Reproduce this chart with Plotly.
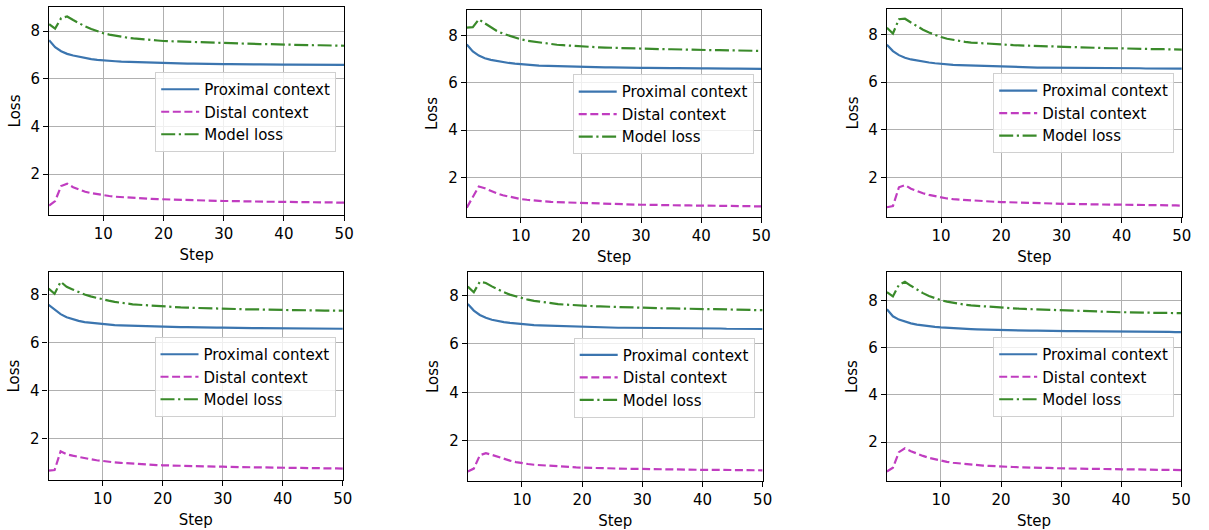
import plotly.graph_objects as go

STEPS = list(range(1, 51))

P1_PROXIMAL = [7.62, 7.33, 7.16, 7.05, 6.98, 6.92, 6.87, 6.83, 6.80, 6.77,
               6.75, 6.74, 6.72, 6.71, 6.70, 6.69, 6.68, 6.67, 6.67, 6.66,
               6.66, 6.65, 6.65, 6.64, 6.64, 6.63, 6.63, 6.63, 6.62, 6.62,
               6.62, 6.61, 6.61, 6.61, 6.61, 6.61, 6.60, 6.60, 6.60, 6.60,
               6.60, 6.60, 6.60, 6.59, 6.59, 6.59, 6.59, 6.59, 6.59, 6.59]
P1_DISTAL = [0.68, 0.87, 1.50, 1.60, 1.45, 1.34, 1.26, 1.20, 1.15, 1.11,
             1.08, 1.05, 1.03, 1.01, 0.99, 0.98, 0.97, 0.96, 0.95, 0.94,
             0.93, 0.92, 0.91, 0.91, 0.90, 0.89, 0.89, 0.88, 0.88, 0.87,
             0.87, 0.86, 0.86, 0.86, 0.85, 0.85, 0.84, 0.84, 0.84, 0.83,
             0.83, 0.83, 0.82, 0.82, 0.82, 0.81, 0.81, 0.81, 0.80, 0.80]
P1_MODEL = [8.30, 8.11, 8.55, 8.62, 8.47, 8.33, 8.20, 8.09, 8.00, 7.92,
            7.86, 7.81, 7.77, 7.73, 7.70, 7.67, 7.65, 7.63, 7.61, 7.59,
            7.58, 7.57, 7.56, 7.55, 7.54, 7.53, 7.52, 7.51, 7.51, 7.50,
            7.49, 7.49, 7.48, 7.47, 7.47, 7.46, 7.46, 7.45, 7.44, 7.44,
            7.43, 7.43, 7.42, 7.42, 7.41, 7.41, 7.40, 7.40, 7.39, 7.39]

P2_PROXIMAL = [7.62, 7.33, 7.15, 7.04, 6.97, 6.92, 6.88, 6.84, 6.81, 6.78,
               6.76, 6.75, 6.73, 6.72, 6.71, 6.70, 6.69, 6.68, 6.68, 6.67,
               6.66, 6.66, 6.65, 6.65, 6.65, 6.64, 6.64, 6.64, 6.63, 6.63,
               6.63, 6.62, 6.62, 6.62, 6.62, 6.62, 6.61, 6.61, 6.61, 6.61,
               6.61, 6.60, 6.60, 6.60, 6.60, 6.60, 6.60, 6.59, 6.59, 6.59]
P2_DISTAL = [0.73, 1.17, 1.62, 1.55, 1.43, 1.33, 1.25, 1.19, 1.14, 1.09,
             1.06, 1.03, 1.01, 0.99, 0.97, 0.96, 0.95, 0.94, 0.93, 0.92,
             0.91, 0.90, 0.89, 0.89, 0.88, 0.87, 0.87, 0.86, 0.86, 0.85,
             0.85, 0.84, 0.84, 0.83, 0.83, 0.83, 0.82, 0.82, 0.82, 0.81,
             0.81, 0.81, 0.80, 0.80, 0.80, 0.79, 0.79, 0.79, 0.78, 0.78]
P2_MODEL = [8.33, 8.35, 8.68, 8.52, 8.33, 8.19, 8.08, 7.99, 7.91, 7.84,
            7.78, 7.74, 7.70, 7.67, 7.64, 7.61, 7.59, 7.57, 7.55, 7.53,
            7.52, 7.51, 7.50, 7.49, 7.48, 7.47, 7.46, 7.46, 7.45, 7.44,
            7.44, 7.43, 7.43, 7.42, 7.42, 7.41, 7.41, 7.40, 7.40, 7.39,
            7.39, 7.38, 7.38, 7.38, 7.37, 7.37, 7.36, 7.36, 7.36, 7.35]

P3_PROXIMAL = [7.57, 7.30, 7.13, 7.02, 6.95, 6.90, 6.86, 6.82, 6.79, 6.76,
               6.74, 6.72, 6.71, 6.70, 6.69, 6.68, 6.67, 6.66, 6.65, 6.64,
               6.64, 6.63, 6.63, 6.62, 6.62, 6.61, 6.61, 6.61, 6.60, 6.60,
               6.60, 6.60, 6.59, 6.59, 6.59, 6.59, 6.59, 6.58, 6.58, 6.58,
               6.58, 6.58, 6.58, 6.57, 6.57, 6.57, 6.57, 6.57, 6.57, 6.56]
P3_DISTAL = [0.74, 0.79, 1.58, 1.67, 1.52, 1.41, 1.33, 1.26, 1.20, 1.15,
             1.11, 1.08, 1.06, 1.04, 1.02, 1.00, 0.99, 0.98, 0.97, 0.96,
             0.95, 0.94, 0.93, 0.93, 0.92, 0.91, 0.91, 0.90, 0.89, 0.89,
             0.88, 0.88, 0.87, 0.87, 0.87, 0.86, 0.86, 0.85, 0.85, 0.85,
             0.84, 0.84, 0.84, 0.83, 0.83, 0.83, 0.82, 0.82, 0.82, 0.81]
P3_MODEL = [8.28, 8.04, 8.64, 8.66, 8.50, 8.34, 8.20, 8.08, 7.98, 7.89,
            7.82, 7.77, 7.73, 7.69, 7.66, 7.64, 7.62, 7.60, 7.58, 7.57,
            7.56, 7.55, 7.54, 7.53, 7.52, 7.51, 7.50, 7.49, 7.48, 7.47,
            7.46, 7.46, 7.45, 7.45, 7.44, 7.43, 7.43, 7.42, 7.42, 7.41,
            7.41, 7.40, 7.40, 7.39, 7.39, 7.38, 7.38, 7.37, 7.37, 7.36]

P4_PROXIMAL = [7.59, 7.38, 7.20, 7.07, 6.98, 6.92, 6.87, 6.84, 6.81, 6.78,
               6.76, 6.74, 6.73, 6.72, 6.71, 6.70, 6.69, 6.69, 6.68, 6.68,
               6.67, 6.67, 6.66, 6.66, 6.65, 6.65, 6.65, 6.64, 6.64, 6.64,
               6.63, 6.63, 6.63, 6.63, 6.62, 6.62, 6.62, 6.62, 6.62, 6.61,
               6.61, 6.61, 6.61, 6.61, 6.60, 6.60, 6.60, 6.60, 6.60, 6.59]
P4_DISTAL = [0.68, 0.70, 1.48, 1.36, 1.30, 1.24, 1.19, 1.15, 1.11, 1.07,
             1.04, 1.02, 1.00, 0.98, 0.97, 0.95, 0.94, 0.93, 0.91, 0.90,
             0.89, 0.89, 0.88, 0.87, 0.86, 0.86, 0.85, 0.85, 0.84, 0.84,
             0.83, 0.83, 0.82, 0.82, 0.81, 0.81, 0.81, 0.80, 0.80, 0.80,
             0.79, 0.79, 0.79, 0.78, 0.78, 0.78, 0.77, 0.77, 0.77, 0.76]
P4_MODEL = [8.27, 8.05, 8.55, 8.34, 8.23, 8.12, 8.02, 7.94, 7.87, 7.81,
            7.76, 7.71, 7.67, 7.64, 7.61, 7.59, 7.57, 7.55, 7.53, 7.52,
            7.50, 7.49, 7.48, 7.47, 7.46, 7.45, 7.44, 7.44, 7.43, 7.42,
            7.42, 7.41, 7.41, 7.40, 7.40, 7.39, 7.39, 7.38, 7.38, 7.38,
            7.37, 7.37, 7.36, 7.36, 7.36, 7.35, 7.35, 7.35, 7.34, 7.34]

P5_PROXIMAL = [7.65, 7.38, 7.20, 7.08, 7.00, 6.94, 6.90, 6.87, 6.84, 6.82,
               6.80, 6.78, 6.77, 6.76, 6.75, 6.74, 6.73, 6.72, 6.71, 6.70,
               6.70, 6.69, 6.69, 6.68, 6.68, 6.67, 6.67, 6.67, 6.66, 6.66,
               6.66, 6.66, 6.65, 6.65, 6.65, 6.65, 6.65, 6.64, 6.64, 6.64,
               6.64, 6.64, 6.64, 6.63, 6.63, 6.63, 6.63, 6.63, 6.63, 6.62]
P5_DISTAL = [0.73, 0.85, 1.40, 1.49, 1.42, 1.33, 1.25, 1.18, 1.12, 1.07,
             1.04, 1.01, 0.99, 0.97, 0.95, 0.94, 0.93, 0.91, 0.90, 0.89,
             0.88, 0.88, 0.87, 0.86, 0.86, 0.85, 0.85, 0.84, 0.84, 0.83,
             0.83, 0.83, 0.82, 0.82, 0.82, 0.81, 0.81, 0.81, 0.81, 0.80,
             0.80, 0.80, 0.80, 0.79, 0.79, 0.79, 0.79, 0.78, 0.78, 0.78]
P5_MODEL = [8.37, 8.14, 8.57, 8.52, 8.38, 8.25, 8.14, 8.04, 7.96, 7.89,
            7.83, 7.78, 7.74, 7.71, 7.68, 7.65, 7.63, 7.61, 7.59, 7.58,
            7.57, 7.56, 7.55, 7.54, 7.53, 7.52, 7.51, 7.50, 7.50, 7.49,
            7.49, 7.48, 7.48, 7.47, 7.47, 7.46, 7.46, 7.46, 7.45, 7.45,
            7.44, 7.44, 7.43, 7.43, 7.42, 7.42, 7.41, 7.41, 7.40, 7.40]

P6_PROXIMAL = [7.63, 7.33, 7.19, 7.10, 7.03, 6.98, 6.94, 6.91, 6.88, 6.86,
               6.84, 6.82, 6.81, 6.80, 6.79, 6.78, 6.77, 6.76, 6.75, 6.74,
               6.74, 6.73, 6.73, 6.72, 6.72, 6.72, 6.71, 6.71, 6.71, 6.70,
               6.70, 6.70, 6.70, 6.69, 6.69, 6.69, 6.69, 6.69, 6.68, 6.68,
               6.68, 6.68, 6.68, 6.67, 6.67, 6.67, 6.67, 6.67, 6.66, 6.66]
P6_DISTAL = [0.76, 0.92, 1.58, 1.74, 1.62, 1.51, 1.42, 1.34, 1.28, 1.21,
             1.17, 1.13, 1.10, 1.07, 1.05, 1.03, 1.01, 1.00, 0.98, 0.97,
             0.96, 0.95, 0.94, 0.94, 0.93, 0.92, 0.91, 0.91, 0.90, 0.89,
             0.89, 0.88, 0.88, 0.88, 0.87, 0.87, 0.86, 0.86, 0.86, 0.85,
             0.85, 0.85, 0.84, 0.84, 0.84, 0.83, 0.83, 0.83, 0.82, 0.82]
P6_MODEL = [8.35, 8.17, 8.66, 8.79, 8.62, 8.45, 8.31, 8.19, 8.09, 8.01,
            7.95, 7.90, 7.86, 7.82, 7.79, 7.77, 7.75, 7.73, 7.71, 7.70,
            7.68, 7.67, 7.65, 7.64, 7.63, 7.62, 7.61, 7.60, 7.58, 7.57,
            7.56, 7.56, 7.55, 7.54, 7.54, 7.53, 7.52, 7.52, 7.51, 7.50,
            7.50, 7.49, 7.49, 7.48, 7.48, 7.47, 7.47, 7.47, 7.46, 7.46]

SERIES_NAMES = ["Proximal context", "Distal context", "Model loss"]
X_TICKS = [10, 20, 30, 40, 50]
Y_TICKS = [2, 4, 6, 8]

PANELS = [
    (P1_PROXIMAL, P1_DISTAL, P1_MODEL),
    (P2_PROXIMAL, P2_DISTAL, P2_MODEL),
    (P3_PROXIMAL, P3_DISTAL, P3_MODEL),
    (P4_PROXIMAL, P4_DISTAL, P4_MODEL),
    (P5_PROXIMAL, P5_DISTAL, P5_MODEL),
    (P6_PROXIMAL, P6_DISTAL, P6_MODEL),
]

W, H = 1209, 530
# axes pixel bounds: left, right, top, bottom
BOUNDS = [
    (49.5, 347.0, 7.0, 215.0),
    (470.7, 767.7, 10.0, 217.0),
    (894.3, 1191.7, 9.3, 216.7),
    (49.0, 345.7, 272.3, 480.0),
    (471.7, 769.0, 272.3, 481.0),
    (894.3, 1191.0, 272.3, 481.0),
]
# legend box right, top (pixels)
LEGEND_POS = [
    (339.0, 72.0),
    (760.0, 74.3),
    (1184.0, 73.3),
    (338.3, 337.0),
    (761.0, 337.7),
    (1184.0, 337.0),
]

STYLES = [
    dict(color="#3b75af", width=2.2, dash="solid"),
    dict(color="#c03cc0", width=2.2, dash="8px,3.6px"),
    dict(color="#3a8a2a", width=2.2, dash="14px,3.6px,2.2px,3.6px"),
]

FONT = dict(family="DejaVu Sans", size=15, color="#000000")

fig = go.Figure()
layout = dict(
    width=W, height=H,
    margin=dict(l=0, r=0, t=0, b=0),
    paper_bgcolor="white", plot_bgcolor="white",
    font=FONT,
    showlegend=True,
)

for i, series in enumerate(PANELS):
    n = i + 1
    xa = "x" if n == 1 else f"x{n}"
    ya = "y" if n == 1 else f"y{n}"
    lg = "legend" if n == 1 else f"legend{n}"
    for name, vals, st in zip(SERIES_NAMES, series, STYLES):
        fig.add_trace(go.Scatter(
            x=STEPS, y=vals, mode="lines", name=name,
            line=dict(color=st["color"], width=st["width"], dash=st["dash"]),
            xaxis=xa, yaxis=ya, legend=lg, showlegend=True,
        ))
    allv = [v for s in series for v in s]
    lo, hi = min(allv), max(allv)
    pad = 0.05 * (hi - lo)
    left, right, top, bottom = BOUNDS[i]
    axis_common = dict(
        showline=True, linecolor="black", linewidth=1.2, mirror=True,
        ticks="outside", ticklen=5, tickwidth=1.2, tickcolor="black",
        showgrid=True, gridcolor="#b0b0b0", gridwidth=1.1,
        zeroline=False, tickfont=FONT,
    )
    layout["xaxis" if n == 1 else f"xaxis{n}"] = dict(
        domain=[left / W, right / W], anchor=ya, range=[1, 50],
        tickvals=X_TICKS, title=dict(text="Step", font=FONT, standoff=7),
        **axis_common,
    )
    layout["yaxis" if n == 1 else f"yaxis{n}"] = dict(
        domain=[1 - bottom / H, 1 - top / H], anchor=xa,
        range=[lo - pad, hi + pad],
        tickvals=Y_TICKS, title=dict(text="Loss", font=FONT, standoff=6),
        **axis_common,
    )
    lx, ly = LEGEND_POS[i]
    layout[lg] = dict(
        x=lx / W, y=1 - ly / H, xanchor="right", yanchor="top",
        xref="paper", yref="paper",
        bgcolor="rgba(255,255,255,0.8)", bordercolor="#d0d0d0", borderwidth=1,
        font=FONT, tracegroupgap=0, itemwidth=38,
    )

fig.update_layout(**layout)
fig.write_html("out.html")
